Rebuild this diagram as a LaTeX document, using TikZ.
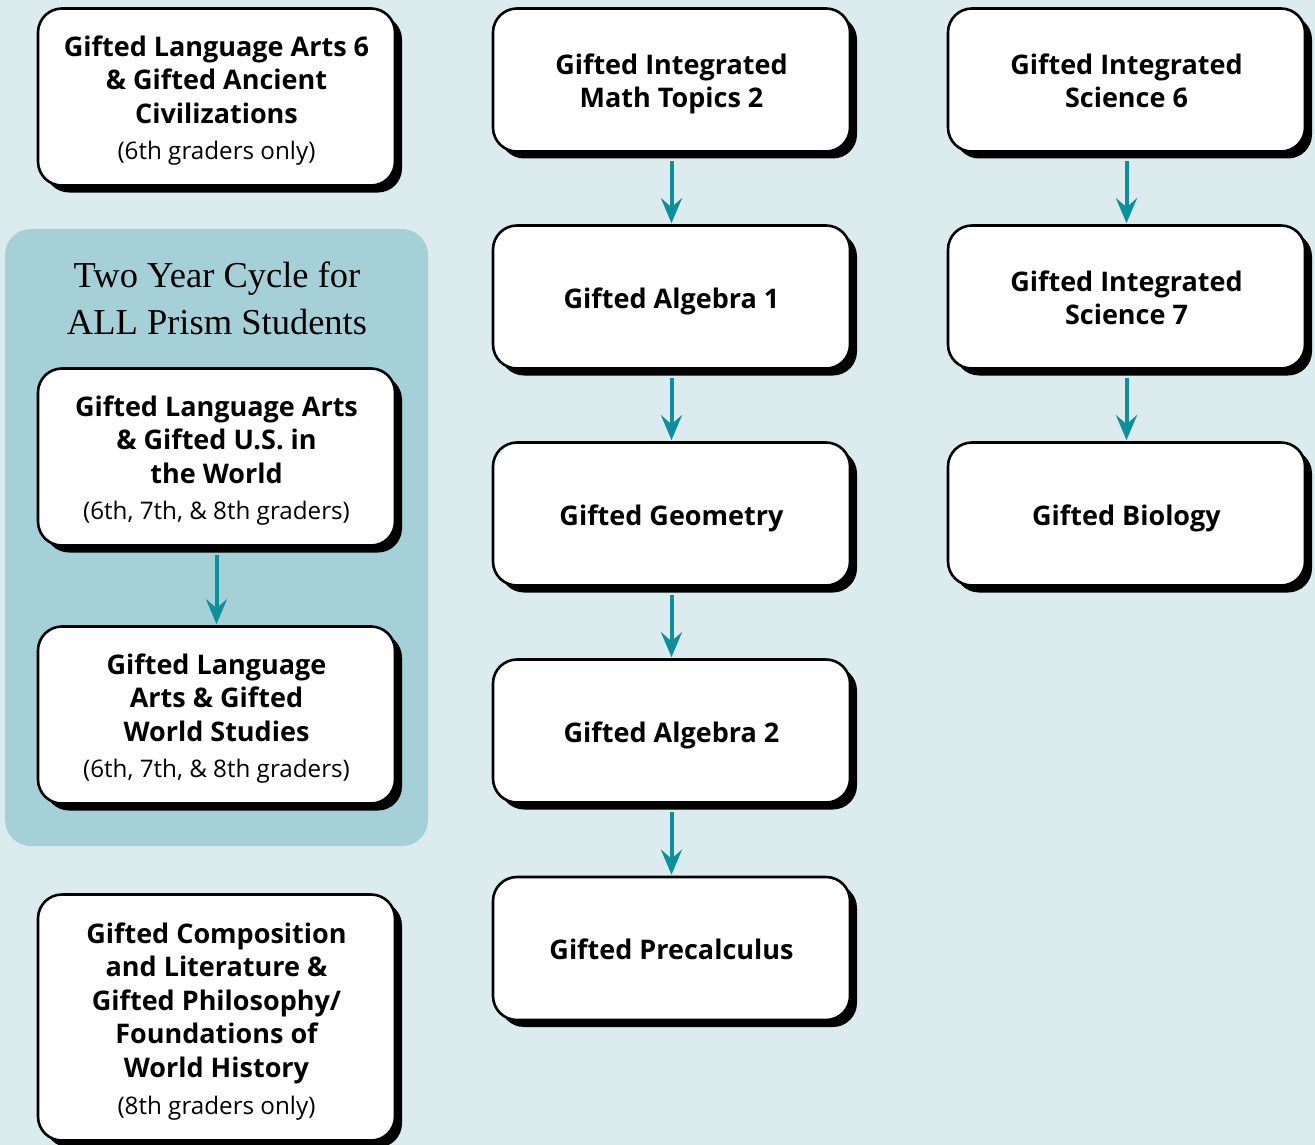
\documentclass[tikz,border=0pt]{standalone}
\usepackage{fontspec}
\setmainfont{Open Sans}
\newfontfamily\titlefont{Liberation Serif}
\usetikzlibrary{arrows.meta,shadows}
\definecolor{bgblue}{HTML}{DCEBEE}
\definecolor{panelblue}{HTML}{A6D0D7}
\definecolor{arrowteal}{HTML}{0E8F9C}
\tikzset{
  course/.style={draw=black, line width=2.6pt, fill=white, rounded corners=24pt,
    minimum width=357pt, inner sep=0pt,
    drop shadow={shadow xshift=7pt, shadow yshift=-7pt, fill=black, opacity=1}},
  coursetext/.style={align=center, inner sep=0pt, yshift=-4pt,
    font=\fontsize{27}{33.6}\selectfont\bfseries,
    execute at end node={\vrule width 0pt depth 6.5pt}},
  flow/.style={draw=arrowteal, line width=4pt,
    -{Stealth[length=25pt,width=21pt,inset=9pt]}, shorten <=8pt, shorten >=1pt},
}
\newcommand{\gr}[1]{\\[3pt]{\fontsize{24.2}{28}\selectfont\mdseries #1}}
% \course{name}{position}{height}{text}
\newcommand{\course}[4]{%
  \node[course, minimum height=#3] (#1) at (#2) {};
  \node[coursetext] (#1-t) at (#1.center) {#4};}
\begin{document}
\begin{tikzpicture}[x=1pt,y=-1pt]
\fill[bgblue] (0,0) rectangle (1315,1145);
\useasboundingbox (0,0) rectangle (1315,1145);
\node[fill=panelblue, rounded corners=26pt, minimum width=423pt, minimum height=617pt, inner sep=0pt] (panel) at (216.5,537.5) {};
\node[align=center, font=\titlefont\fontsize{36.5}{47}\selectfont] (title) at (217,298) {Two Year Cycle for\\ALL Prism Students};

% left column
\course{la6}{216.5,97}{177pt}{Gifted Language Arts 6\\\& Gifted Ancient\\Civilizations\gr{(6th graders only)}}
\course{laus}{216.5,457}{177pt}{Gifted Language Arts\\\& Gifted U.S. in\\the World\gr{(6th, 7th, \& 8th graders)}}
\course{laws}{216.5,715}{177pt}{Gifted Language\\Arts \& Gifted\\World Studies\gr{(6th, 7th, \& 8th graders)}}
\course{comp}{216.5,1017.5}{246pt}{Gifted Composition\\and Literature \&\\Gifted Philosophy/\\Foundations of\\World History\gr{(8th graders only)}}

% middle column
\course{m1}{671.5,80}{143pt}{Gifted Integrated\\Math Topics 2}
\course{m2}{671.5,297}{143pt}{Gifted Algebra 1}
\course{m3}{671.5,514}{143pt}{Gifted Geometry}
\course{m4}{671.5,731}{143pt}{Gifted Algebra 2}
\course{m5}{671.5,948.5}{143pt}{Gifted Precalculus}

% right column
\course{s1}{1126.5,80}{143pt}{Gifted Integrated\\Science 6}
\course{s2}{1126.5,297}{143pt}{Gifted Integrated\\Science 7}
\course{s3}{1126.5,514}{143pt}{Gifted Biology}

\draw[flow] (laus) -- (laws);
\draw[flow] (m1) -- (m2);
\draw[flow] (m2) -- (m3);
\draw[flow] (m3) -- (m4);
\draw[flow] (m4) -- (m5);
\draw[flow] (s1) -- (s2);
\draw[flow] (s2) -- (s3);
\end{tikzpicture}
\end{document}
